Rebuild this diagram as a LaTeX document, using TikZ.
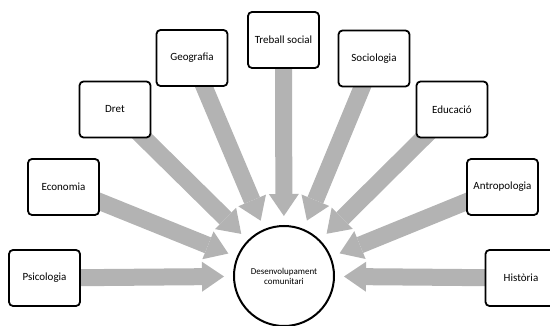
\documentclass[tikz,border=0pt]{standalone}
\usepackage{fontspec}
\setmainfont{Carlito}
\usetikzlibrary{arrows.meta,calc,backgrounds}
\definecolor{arrowgray}{RGB}{179,179,179}
\begin{document}
\begin{tikzpicture}[x=1pt,y=-1pt,
  box/.style={draw=black,line width=1.8pt,rounded corners=4pt,fill=white,
    minimum width=71pt,minimum height=56pt,inner sep=0pt,
    font=\fontsize{11}{13}\selectfont},
  hub/.style={draw=black,line width=2pt,circle,fill=white,minimum size=100pt,
    inner sep=0pt,align=center,font=\fontsize{9}{10}\selectfont},
  flow/.style={draw=arrowgray,line width=17pt,
    -{Triangle[width=30pt,length=22pt,line width=0pt]}},
]
\useasboundingbox (0,0) rectangle (550,326);
\clip (0,0) rectangle (550,326);
\node[hub] (c) at (284,276) {Desenvolupament\\comunitari};
\node[box] (psi) at (44.5,278) {Psicologia};
\node[box] (eco) at (63.5,187) {Economia};
\node[box] (dret) at (115,109.5) {Dret};
\node[box] (geo) at (192,58) {Geografia};
\node[box] (ts) at (283.5,40) {Treball social};
\node[box] (soc) at (374,58.5) {Sociologia};
\node[box] (edu) at (452,109.5) {Educació};
\node[box] (ant) at (502.5,187) {Antropologia};
\node[box] (his) at (521,278) {Història};
\foreach \n in {psi,eco,dret,geo,ts,soc,edu,ant,his}{
  \coordinate (\n-end) at ($(c)!60pt!(\n)$);
}
\begin{pgfonlayer}{background}
\foreach \n in {psi,eco,dret,geo,ts,soc,edu,ant,his}{
  \draw[flow] (\n.center) -- (\n-end);
}
\end{pgfonlayer}
\end{tikzpicture}
\end{document}
